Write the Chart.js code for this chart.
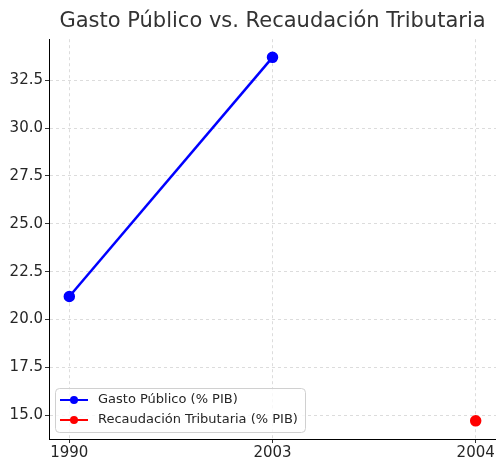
<!DOCTYPE html>
<html><head><meta charset="utf-8">
<script src="https://cdn.jsdelivr.net/npm/chart.js@4"></script>
<style>html,body{margin:0;padding:0;background:#fff}#wrap{width:496px;height:458px}</style>
</head><body><div id="wrap"><canvas id="c" width="496" height="458"></canvas></div>
<script>
const years = ['1990', '2003', '2004'];
const gasto = [21.2, 33.7, null];
const recaudacion = [null, null, 14.7];
const yTicks = [15.0, 17.5, 20.0, 22.5, 25.0, 27.5, 30.0, 32.5];
const titleText = 'Gasto Público vs. Recaudación Tributaria';
const seriesLabels = ['Gasto Público (% PIB)', 'Recaudación Tributaria (% PIB)'];

function toPoints(arr){ return arr.map((v,i)=>v===null?null:{x:i,y:v}).filter(p=>p); }

const FONT = "'DejaVu Sans', sans-serif";

const legendPlugin = {
  id: 'innerLegend',
  afterDatasetsDraw(chart){
    const ctx = chart.ctx;
    const x0 = 55.5, y0 = 388.5, w = 250, h = 44, r = 4;
    ctx.save();
    ctx.beginPath();
    ctx.moveTo(x0+r,y0); ctx.lineTo(x0+w-r,y0); ctx.quadraticCurveTo(x0+w,y0,x0+w,y0+r);
    ctx.lineTo(x0+w,y0+h-r); ctx.quadraticCurveTo(x0+w,y0+h,x0+w-r,y0+h);
    ctx.lineTo(x0+r,y0+h); ctx.quadraticCurveTo(x0,y0+h,x0,y0+h-r);
    ctx.lineTo(x0,y0+r); ctx.quadraticCurveTo(x0,y0,x0+r,y0); ctx.closePath();
    ctx.fillStyle = 'rgba(255,255,255,0.8)'; ctx.fill();
    ctx.strokeStyle = '#d0d0d0'; ctx.lineWidth = 1; ctx.stroke();
    chart.data.datasets.forEach((ds,i)=>{
      const cy = 400 + i*20;
      ctx.strokeStyle = ds.borderColor; ctx.lineWidth = 2;
      ctx.beginPath(); ctx.moveTo(60,cy); ctx.lineTo(88,cy); ctx.stroke();
      ctx.fillStyle = ds.borderColor;
      ctx.beginPath(); ctx.arc(74,cy,4,0,Math.PI*2); ctx.fill();
      ctx.fillStyle = '#262626'; ctx.font = '13px ' + FONT;
      ctx.textBaseline = 'middle'; ctx.textAlign = 'left';
      ctx.fillText(ds.label, 98, cy);
    });
    ctx.restore();
  }
};

new Chart(document.getElementById('c'), {
  type: 'line',
  data: {
    datasets: [
      { label: seriesLabels[0], data: toPoints(gasto), borderColor: '#0000ff', backgroundColor: '#0000ff',
        borderWidth: 2.5, pointRadius: 4.5, pointHoverRadius: 4.5 },
      { label: seriesLabels[1], data: toPoints(recaudacion), borderColor: '#ff0000', backgroundColor: '#ff0000',
        borderWidth: 2.5, pointRadius: 4.5, pointHoverRadius: 4.5 }
    ]
  },
  options: {
    responsive: false, animation: false, devicePixelRatio: 1,
    layout: { autoPadding: false, padding: { left: 0, right: 0, top: 0, bottom: 0 } },
    plugins: {
      legend: { display: false },
      tooltip: { enabled: false },
      title: { display: true, text: titleText, fullSize: false, color: '#333333',
        font: { family: FONT, size: 21, weight: 'normal' }, padding: { top: 9, bottom: 5 } }
    },
    scales: {
      x: {
        type: 'linear', min: -0.1, max: years.length - 1 + 0.1,
        afterBuildTicks(axis){ axis.ticks = years.map((_,i)=>({value:i})); },
        afterFit(axis){ axis.height = 19; axis.paddingLeft = 0; axis.paddingRight = 0; },
        ticks: { callback: (v)=>years[v], color: '#262626', font: { family: FONT, size: 15 }, padding: 1, maxRotation: 0, autoSkip: false },
        grid: { color: '#dcdcdc', lineWidth: 1, tickColor: '#333', tickLength: 4, tickBorderDash: [] },
        border: { display: true, color: '#000', width: 1, dash: [3, 3] }
      },
      y: {
        type: 'linear', min: 13.75, max: 34.65,
        afterBuildTicks(axis){ axis.ticks = yTicks.map(v=>({value:v})); },
        afterFit(axis){ axis.width = 49; axis.paddingTop = 0; axis.paddingBottom = 0; },
        ticks: { callback: (v)=>v.toFixed(1), color: '#262626', font: { family: FONT, size: 15 }, padding: 2 },
        grid: { color: '#dcdcdc', lineWidth: 1, tickColor: '#333', tickLength: 4, tickBorderDash: [] },
        border: { display: true, color: '#000', width: 1, dash: [3, 3] }
      }
    }
  },
  plugins: [legendPlugin]
});
</script></body></html>
